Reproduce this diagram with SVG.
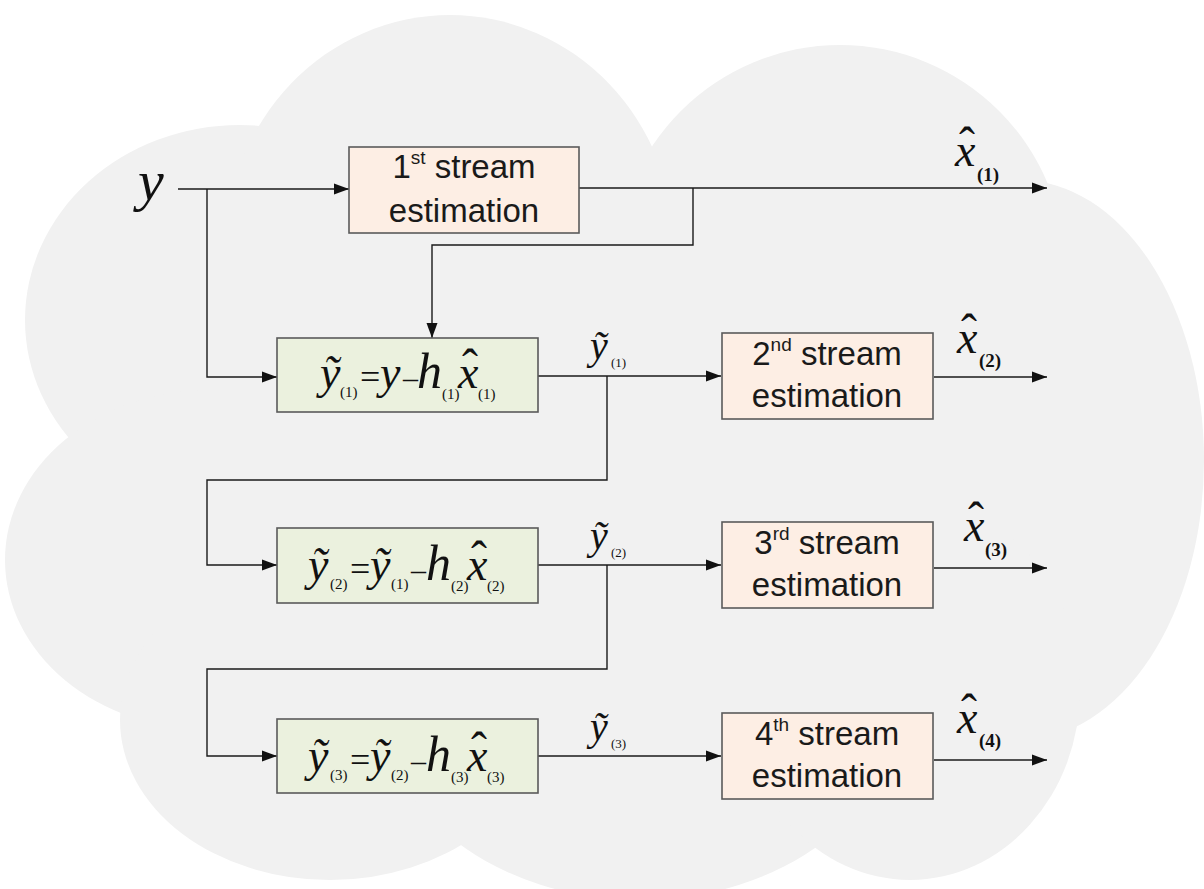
<svg xmlns="http://www.w3.org/2000/svg" width="1204" height="889" viewBox="0 0 1204 889">
<defs>
<marker id="arr" markerUnits="userSpaceOnUse" markerWidth="16" markerHeight="12" refX="15" refY="6" orient="auto">
<path d="M0,0.5 L15,6 L0,11.5 Z" fill="#111"/>
</marker>
<style>
.cloud{fill:#f1f1f1}
.est{fill:#fdeee4;stroke:#5a5a5a;stroke-width:1.6}
.sub{fill:#ebf1de;stroke:#5a5a5a;stroke-width:1.6}
.lbl{font-family:"Liberation Sans",Arial,sans-serif;font-size:33px;fill:#1a1a1a;text-anchor:middle}
.sup{font-size:19px}
.m{font-family:"Liberation Serif","Times New Roman",serif;font-style:italic;font-size:46px;fill:#111}
.mh{font-family:"Liberation Serif","Times New Roman",serif;font-style:italic;font-size:50px;fill:#111}
.s{font-family:"Liberation Serif","Times New Roman",serif;font-size:15px;fill:#111}
.sb{font-family:"Liberation Serif","Times New Roman",serif;font-size:19px;font-weight:bold;fill:#111}
.op{font-family:"Liberation Serif","Times New Roman",serif;font-size:36px;fill:#111}
.dash{font-family:"Liberation Serif","Times New Roman",serif;font-size:30px;fill:#111}
.hat{font-family:"Liberation Serif","Times New Roman",serif;font-size:48px;fill:#111}
.ln{fill:none;stroke:#1a1a1a;stroke-width:1.4}
</style>
</defs>
<rect width="1204" height="889" fill="#ffffff"/>
<g id="cloud" class="cloud">
<ellipse cx="240" cy="320" rx="215" ry="195"/>
<ellipse cx="450" cy="250" rx="225" ry="235"/>
<ellipse cx="840" cy="270" rx="225" ry="225"/>
<ellipse cx="1020" cy="460" rx="184" ry="280"/>
<ellipse cx="210" cy="560" rx="205" ry="170"/>
<ellipse cx="330" cy="720" rx="210" ry="160"/>
<ellipse cx="640" cy="700" rx="260" ry="200"/>
<ellipse cx="910" cy="690" rx="170" ry="190"/>
<rect x="200" y="200" width="800" height="550"/>
</g>
<g id="connectors" class="ln">
<path d="M178,189 H349" marker-end="url(#arr)"/>
<path d="M207,189 V377 H277" marker-end="url(#arr)"/>
<path d="M579,188 H1047" marker-end="url(#arr)"/>
<path d="M693,188 V245 H432 V338" marker-end="url(#arr)"/>
<path d="M538,376 H721" marker-end="url(#arr)"/>
<path d="M607,376 V480 H207 V565 H277" marker-end="url(#arr)"/>
<path d="M934,377 H1047" marker-end="url(#arr)"/>
<path d="M538,565 H721" marker-end="url(#arr)"/>
<path d="M607,565 V669 H207 V756 H277" marker-end="url(#arr)"/>
<path d="M934,568 H1047" marker-end="url(#arr)"/>
<path d="M538,756 H721" marker-end="url(#arr)"/>
<path d="M934,760 H1047" marker-end="url(#arr)"/>
</g>
<g id="input-y">
<text x="138" y="200" class="m" style="font-size:58px">y</text>
</g>
<g id="est1">
<rect x="349" y="147" width="230" height="86" class="est"/>
<text x="464" y="178" class="lbl">1<tspan class="sup" dy="-14">st</tspan><tspan dy="14"> stream</tspan></text>
<text x="464" y="222" class="lbl">estimation</text>
</g>
<g id="sub1">
<rect x="277" y="338" width="261" height="74" class="sub"/>
<text x="320" y="388" class="m">ỹ</text>
<text x="340" y="397" class="s">(1)</text>
<text x="360" y="389" class="op">=</text>
<text x="380" y="388" class="m">y</text>
<text x="403" y="388" class="dash">–</text>
<text x="417" y="388" class="mh">h</text>
<text x="442" y="399" class="s">(1)</text>
<text x="458" y="388" class="m">x</text>
<text x="462" y="383" class="hat">ˆ</text>
<text x="478" y="399" class="s">(1)</text>
</g>
<g id="est2">
<rect x="722" y="333" width="211" height="86" class="est"/>
<text x="827" y="365" class="lbl">2<tspan class="sup" dy="-14">nd</tspan><tspan dy="14"> stream</tspan></text>
<text x="827" y="407" class="lbl">estimation</text>
</g>
<g id="sub2">
<rect x="277" y="528" width="261" height="75" class="sub"/>
<text x="308" y="580" class="m">ỹ</text>
<text x="330" y="589" class="s">(2)</text>
<text x="350" y="581" class="op">=</text>
<text x="370" y="580" class="m">ỹ</text>
<text x="391" y="589" class="s">(1)</text>
<text x="411" y="580" class="dash">–</text>
<text x="426" y="580" class="mh">h</text>
<text x="451" y="591" class="s">(2)</text>
<text x="467" y="580" class="m">x</text>
<text x="471" y="575" class="hat">ˆ</text>
<text x="487" y="591" class="s">(2)</text>
</g>
<g id="est3">
<rect x="722" y="522" width="211" height="86" class="est"/>
<text x="827" y="554" class="lbl">3<tspan class="sup" dy="-14">rd</tspan><tspan dy="14"> stream</tspan></text>
<text x="827" y="596" class="lbl">estimation</text>
</g>
<g id="sub3">
<rect x="277" y="719" width="261" height="74" class="sub"/>
<text x="308" y="771" class="m">ỹ</text>
<text x="330" y="780" class="s">(3)</text>
<text x="350" y="772" class="op">=</text>
<text x="370" y="771" class="m">ỹ</text>
<text x="391" y="780" class="s">(2)</text>
<text x="411" y="771" class="dash">–</text>
<text x="426" y="771" class="mh">h</text>
<text x="451" y="782" class="s">(3)</text>
<text x="467" y="771" class="m">x</text>
<text x="471" y="766" class="hat">ˆ</text>
<text x="487" y="782" class="s">(3)</text>
</g>
<g id="est4">
<rect x="722" y="713" width="211" height="86" class="est"/>
<text x="827" y="745" class="lbl">4<tspan class="sup" dy="-14">th</tspan><tspan dy="14"> stream</tspan></text>
<text x="827" y="787" class="lbl">estimation</text>
</g>
<g id="labels">
<text x="590" y="359" class="m" style="font-size:40px">ỹ</text>
<text x="611" y="367" class="s" style="font-size:13px">(1)</text>
<text x="590" y="549" class="m" style="font-size:40px">ỹ</text>
<text x="611" y="557" class="s" style="font-size:13px">(2)</text>
<text x="590" y="740" class="m" style="font-size:40px">ỹ</text>
<text x="611" y="748" class="s" style="font-size:13px">(3)</text>
<text x="955" y="166" class="m">x</text>
<text x="959" y="161" class="hat">ˆ</text>
<text x="977" y="181" class="sb">(1)</text>
<text x="957" y="353" class="m">x</text>
<text x="961" y="348" class="hat">ˆ</text>
<text x="979" y="367" class="sb">(2)</text>
<text x="964" y="541" class="m">x</text>
<text x="968" y="536" class="hat">ˆ</text>
<text x="985" y="556" class="sb">(3)</text>
<text x="957" y="733" class="m">x</text>
<text x="961" y="728" class="hat">ˆ</text>
<text x="979" y="747" class="sb">(4)</text>
</g>
</svg>
